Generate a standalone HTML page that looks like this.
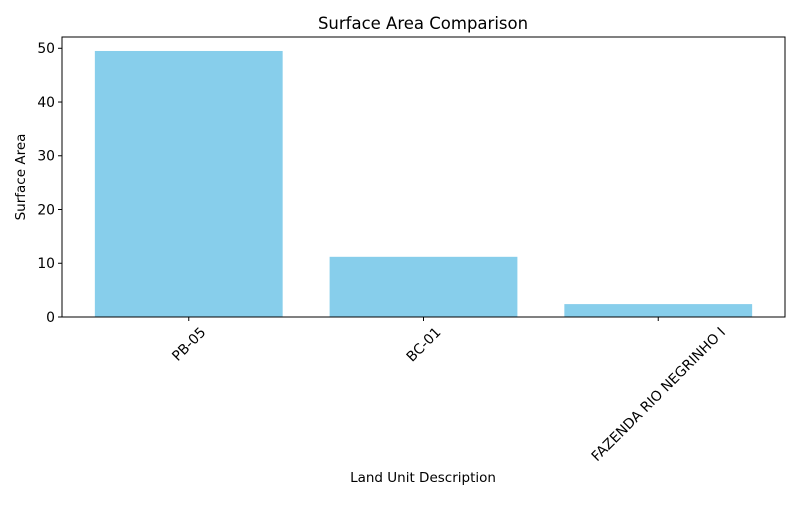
<!DOCTYPE html>
<html><head><meta charset="utf-8"><style>
body{margin:0;background:#fff;}
svg text{font-family:"DejaVu Sans","Liberation Sans",sans-serif;fill:#000;}
</style></head><body>
<svg id="chart" width="800" height="500">
<text x="423" y="29" text-anchor="middle" font-size="16.5">Surface Area Comparison</text>
<text x="423" y="482" text-anchor="middle" font-size="13.5">Land Unit Description</text>
<text transform="translate(25,177) rotate(-90)" text-anchor="middle" font-size="13.5">Surface Area</text>
<g id="marks"></g>
<rect x="62" y="37" width="723" height="280" fill="none" stroke="#000" stroke-width="1"/>
</svg>
<script>
const categories=["PB-05","BC-01","FAZENDA RIO NEGRINHO I"];
const values=[49.5,11.2,2.4];
const yTicks=[0,10,20,30,40,50];
const L=62,R=785,T=37,B=317,yMax=52.1,xMin=-0.54,xMax=2.54;
const ns="http://www.w3.org/2000/svg";
const g=document.getElementById('marks');
const y=v=>B-(v/yMax)*(B-T);
const x=i=>L+(i-xMin)/(xMax-xMin)*(R-L);
function mk(t,a){const e=document.createElementNS(ns,t);for(const k in a)e.setAttribute(k,a[k]);g.appendChild(e);return e;}
values.forEach((v,i)=>{
 const r=mk('rect',{x:x(i-0.4),y:y(v),width:x(i+0.4)-x(i-0.4),height:B-y(v),fill:'#87ceeb'});
 
 
});
yTicks.forEach(t=>{
 const l=mk('line',{x1:L-4,x2:L,y1:y(t),y2:y(t),stroke:'#000'});
 
 
 const tx=mk('text',{x:L-7,y:y(t)+4.8,'text-anchor':'end','font-size':'13.9'});
 tx.textContent=t;
 
 
});
categories.forEach((c,i)=>{
 const l=mk('line',{x1:x(i),x2:x(i),y1:B,y2:B+4,stroke:'#000'});
 
 
 const tx=mk('text',{x:0,y:4.8,'text-anchor':'middle','font-size':'13.9'});
 tx.textContent=c;
 
 
 const w=tx.getComputedTextLength();
 const half=(w+16)*0.7071/2;
 tx.setAttribute('transform',`translate(${x(i)},${B+7+half}) rotate(-45)`);
});
</script>
</body></html>
